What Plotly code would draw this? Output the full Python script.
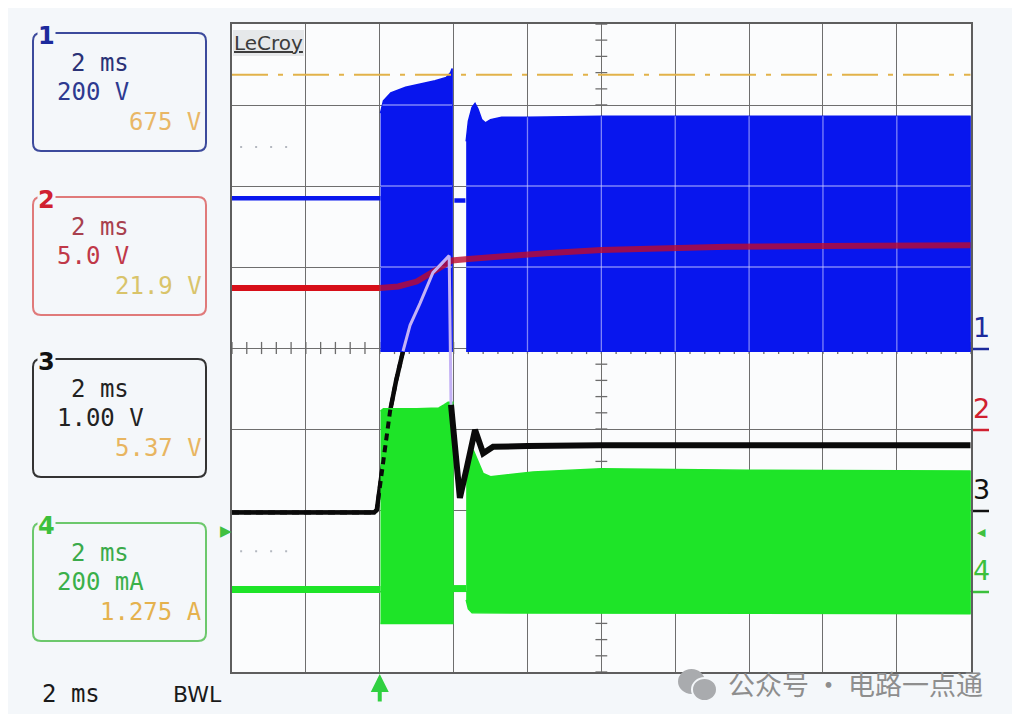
import numpy as np
import plotly.graph_objects as go

W, H = 1020, 722
PAGE_MARGIN = 8                    # browser body margin around the figure
FIG_W, FIG_H = W - 2 * PAGE_MARGIN, H - 2 * PAGE_MARGIN

# scope settings per channel: units/div and ground marker (in divisions from bottom)
CH1_SCALE, CH1_OFFSET = 200.0, 4   # V
CH2_SCALE, CH2_OFFSET = 5.0, 3     # V
CH3_SCALE, CH3_OFFSET = 1.0, 2     # V
CH4_SCALE, CH4_OFFSET = 0.2, 1     # A
CURSOR_CH1 = 675.0                 # V, cursor level shown in orange

# --- channel 1 (blue, V) ---
ch1_pre_t = [0.0, 4.02]
ch1_pre_v = [370, 370]
ch1_b1_t = [4.02, 4.10, 4.30, 4.70, 5.10, 5.50, 5.80, 5.92, 5.96]
ch1_b1_top = [580, 610, 630, 644, 652, 660, 668, 680, 690]
ch1_b1_bot_t = [4.02, 5.96]
ch1_b1_bot = [-8, -8]
ch1_gap_t = [6.02, 6.32]
ch1_gap_v = [364, 364]
ch1_b2_t = [6.34, 6.40, 6.50, 6.58, 6.66, 6.76, 6.86, 7.0, 7.3, 8.0, 10.0, 14.0, 20.0]
ch1_b2_top = [510, 560, 594, 604, 590, 564, 556, 564, 570, 570, 572, 572, 572]
ch1_b2_bot_t = [6.34, 20.0]
ch1_b2_bot = [-8, -8]

# --- channel 2 (red, V) ---
ch2_t = [0.0, 4.0, 4.5, 5.0, 5.5, 5.96, 6.4, 7.2, 8.5, 10.0, 11.6, 13.4, 16.0, 20.0]
ch2_v = [8.7, 8.7, 8.8, 9.1, 9.75, 10.4, 10.5, 10.65, 10.85, 11.05, 11.15, 11.25, 11.3, 11.35]

# --- channel 3 (black, V) ---
ch3_t = [0.0, 3.85, 3.92, 4.0, 4.14, 4.28, 4.44, 4.63, 4.82, 5.09, 5.44, 5.88, 5.93,
         6.04, 6.17, 6.36, 6.58, 6.80, 7.07, 8.0, 10.0, 14.0, 20.0]
ch3_v = [-0.03, -0.03, 0.0, 0.25, 0.75, 1.22, 1.59, 1.96, 2.28, 2.55, 2.93, 3.14, 1.30,
         0.80, 0.15, 0.53, 0.99, 0.70, 0.78, 0.79, 0.80, 0.80, 0.80]
ch3_hidden = (4.63, 5.93)          # part of ch3 drawn behind the ch1 burst

# --- channel 4 (green, A) ---
ch4_pre_t = [0.0, 4.02]
ch4_pre_v = [0.004, 0.004]
ch4_b1_t = [4.02, 4.10, 5.0, 5.6, 5.75, 5.85, 5.98]
ch4_b1_top = [0.444, 0.45, 0.45, 0.452, 0.46, 0.466, 0.466]
ch4_b1_bot_t = [4.02, 5.98]
ch4_b1_bot = [-0.08, -0.08]
ch4_gap_t = [5.98, 6.34]
ch4_gap_v = [0.006, 0.006]
ch4_b2_t = [6.34, 6.42, 6.53, 6.64, 6.80, 7.0, 8.15, 10.0, 14.0, 20.0]
ch4_b2_top = [0.274, 0.31, 0.348, 0.324, 0.29, 0.282, 0.294, 0.302, 0.298, 0.296]
ch4_b2_bot_t = [6.34, 6.40, 6.50, 20.0]
ch4_b2_bot = [-0.022, -0.044, -0.054, -0.056]

# dotted reference marks at the left edge (ms, div)
dots_t = [0.22, 1.62]
dots_y = [6.48, 1.49]

BLUE = "rgb(8,22,238)"
GREEN = "rgb(30,228,40)"
RED = "rgb(215,15,25)"
PAPER = "#f4f7fa"


def to_div(v, scale, offset):
    return offset + np.asarray(v, dtype=float) / scale


def envelope(t_top, top, t_bot, bot):
    xs = list(t_top) + list(t_bot)[::-1]
    ys = list(top) + list(bot)[::-1]
    return xs, ys


def px(x):
    return (x - PAGE_MARGIN) / FIG_W


def py(y):
    return 1 - (y - PAGE_MARGIN) / FIG_H


fig = go.Figure()

# center graticule ticks
tx, ty = [], []
for t in np.arange(0, 20.01, 0.4):
    tx += [t, t, None]
    ty += [4 - 0.075, 4 + 0.075, None]
for d in np.arange(0, 8.01, 0.2):
    tx += [10 - 0.16, 10 + 0.16, None]
    ty += [d, d, None]
fig.add_trace(go.Scatter(x=tx, y=ty, mode="lines", line=dict(color="#6c6c6c", width=1.3),
                         hoverinfo="skip"))

for yv in dots_y:
    fig.add_trace(go.Scatter(x=dots_t, y=[yv, yv], mode="lines",
                             line=dict(color="#b4b8c0", width=2, dash="2px,13px"),
                             hoverinfo="skip"))

# channel 3 split into the rise, the part behind ch1 and the settled part
ch3_tt = np.asarray(ch3_t)
ch3_div = to_div(ch3_v, CH3_SCALE, CH3_OFFSET)
rise = ch3_tt <= ch3_hidden[0]
after = ch3_tt >= ch3_hidden[1]
hidden = (ch3_tt >= ch3_hidden[0]) & (ch3_tt <= ch3_hidden[1])
fig.add_trace(go.Scatter(x=ch3_tt[rise], y=ch3_div[rise], mode="lines",
                         line=dict(color="#0a0a0a", width=4.5), hoverinfo="skip"))

# channel 4 bursts
for tt, top, tb, bot in [(ch4_b1_t, ch4_b1_top, ch4_b1_bot_t, ch4_b1_bot),
                         (ch4_b2_t, ch4_b2_top, ch4_b2_bot_t, ch4_b2_bot)]:
    xs, ys = envelope(tt, to_div(top, CH4_SCALE, CH4_OFFSET), tb, to_div(bot, CH4_SCALE, CH4_OFFSET))
    fig.add_trace(go.Scatter(x=xs, y=ys, fill="toself", fillcolor=GREEN, mode="lines",
                             line=dict(color=GREEN, width=1.5), hoverinfo="skip"))
for tt, vv in [(ch4_pre_t, ch4_pre_v), (ch4_gap_t, ch4_gap_v)]:
    fig.add_trace(go.Scatter(x=tt, y=to_div(vv, CH4_SCALE, CH4_OFFSET), mode="lines",
                             line=dict(color=GREEN, width=7), hoverinfo="skip"))

# ch3 rise interleaved with the ch4 burst, then the settled part on top
fig.add_trace(go.Scatter(x=ch3_tt[rise], y=ch3_div[rise], mode="lines",
                         line=dict(color="#0a0a0a", width=4, dash="7px,5px"), hoverinfo="skip"))
fig.add_trace(go.Scatter(x=ch3_tt[after], y=ch3_div[after], mode="lines",
                         line=dict(color="#0a0a0a", width=6), hoverinfo="skip"))

# channel 1 bursts
blue_bursts = []
for tt, top, tb, bot in [(ch1_b1_t, ch1_b1_top, ch1_b1_bot_t, ch1_b1_bot),
                         (ch1_b2_t, ch1_b2_top, ch1_b2_bot_t, ch1_b2_bot)]:
    top_d = to_div(top, CH1_SCALE, CH1_OFFSET)
    bot_d = to_div(bot, CH1_SCALE, CH1_OFFSET)
    blue_bursts.append((np.asarray(tt), top_d, float(bot_d.max())))
    xs, ys = envelope(tt, top_d, tb, bot_d)
    fig.add_trace(go.Scatter(x=xs, y=ys, fill="toself", fillcolor=BLUE, mode="lines",
                             line=dict(color=BLUE, width=1.5), hoverinfo="skip"))
for tt, vv in [(ch1_pre_t, ch1_pre_v), (ch1_gap_t, ch1_gap_v)]:
    fig.add_trace(go.Scatter(x=tt, y=to_div(vv, CH1_SCALE, CH1_OFFSET), mode="lines",
                             line=dict(color=BLUE, width=4.5), hoverinfo="skip"))

# graticule shows through the blue bursts as light lines
gx, gy = [], []
for tt, top_d, bot_top in blue_bursts:
    for g in range(0, 21, 2):
        if tt[0] < g < tt[-1]:
            gx += [g, g, None]
            gy += [bot_top, float(np.interp(g, tt, top_d)), None]
    fine = np.linspace(tt[0], tt[-1], 400)
    top_f = np.interp(fine, tt, top_d)
    for level in (5, 6, 7):
        sel = fine[top_f >= level]
        if sel.size:
            gx += [float(sel.min()), float(sel.max()), None]
            gy += [level, level, None]
fig.add_trace(go.Scatter(x=gx, y=gy, mode="lines",
                         line=dict(color="rgba(205,205,255,0.6)", width=1.3), hoverinfo="skip"))

# channel 2
ch2_div = to_div(ch2_v, CH2_SCALE, CH2_OFFSET)
fig.add_trace(go.Scatter(x=ch2_t[:2], y=ch2_div[:2], mode="lines",
                         line=dict(color=RED, width=6), hoverinfo="skip"))
fig.add_trace(go.Scatter(x=ch2_t[1:], y=ch2_div[1:], mode="lines",
                         line=dict(color="rgba(190,10,45,0.8)", width=6), hoverinfo="skip"))

# channel 3 seen through channel 1
fig.add_trace(go.Scatter(x=ch3_tt[hidden], y=ch3_div[hidden], mode="lines",
                         line=dict(color="rgb(196,178,245)", width=3), hoverinfo="skip"))

# cursor level
cursor_div = CH1_OFFSET + CURSOR_CH1 / CH1_SCALE
fig.add_trace(go.Scatter(x=[0, 20], y=[cursor_div, cursor_div], mode="lines",
                         line=dict(color="#e2b24a", width=2, dash="36px,10px,5px,10px"),
                         hoverinfo="skip"))

shapes = []
annotations = []

# channel boxes on the left
MONO = "DejaVu Sans Mono"
CHAR = 14.45
boxes = [
    ("1", 33, "#3c4a9c", "#1c2a9c", [("2 ms", "#2a3276"), ("200 V", "#2e3a90"), ("675 V", "#e9b766")]),
    ("2", 197, "#e07a7a", "#d02030", [("2 ms", "#a8404e"), ("5.0 V", "#c03848"), ("21.9 V", "#d9c46a")]),
    ("3", 359, "#333333", "#111111", [("2 ms", "#222222"), ("1.00 V", "#222222"), ("5.37 V", "#e8b560")]),
    ("4", 523, "#6cc86c", "#3cc03c", [("2 ms", "#3aaa4a"), ("200 mA", "#3ab04a"), ("1.275 A", "#e5b24e")]),
]
for num, top, border, numcol, lines in boxes:
    x0, x1, y0, y1, r = 33, 206, top, top + 118, 8
    path = (f"M {px(x0 + r)},{py(y0)} L {px(x1 - r)},{py(y0)} Q {px(x1)},{py(y0)} {px(x1)},{py(y0 + r)} "
            f"L {px(x1)},{py(y1 - r)} Q {px(x1)},{py(y1)} {px(x1 - r)},{py(y1)} "
            f"L {px(x0 + r)},{py(y1)} Q {px(x0)},{py(y1)} {px(x0)},{py(y1 - r)} "
            f"L {px(x0)},{py(y0 + r)} Q {px(x0)},{py(y0)} {px(x0 + r)},{py(y0)} Z")
    shapes.append(dict(type="path", path=path, xref="paper", yref="paper",
                       line=dict(color=border, width=2)))
    annotations.append(dict(x=px(37), y=py(top + 3), text=f"<b>{num}</b>", bgcolor=PAPER,
                            borderpad=0, font=dict(family="DejaVu Sans", size=24, color=numcol)))
    (t1, c1), (t2, c2), (t3, c3) = lines
    annotations.append(dict(x=px(55 + CHAR), y=py(top + 30), text=t1, font=dict(color=c1)))
    annotations.append(dict(x=px(55), y=py(top + 59), text=t2, font=dict(color=c2)))
    annotations.append(dict(x=px(55 + (10 - len(t3)) * CHAR), y=py(top + 89), text=t3,
                            font=dict(color=c3)))

# timebase line at the bottom
annotations.append(dict(x=px(40), y=py(694), text="2 ms", font=dict(color="#1a1a1a")))
annotations.append(dict(x=px(171), y=py(694), text="BWL",
                        font=dict(family="DejaVu Sans", size=22, color="#1a1a1a")))

# LeCroy badge
shapes.append(dict(type="rect", xref="paper", yref="paper", x0=px(233), x1=px(304), y0=py(56), y1=py(30),
                   fillcolor="#e6e8ea", line=dict(width=0)))
annotations.append(dict(x=px(268), y=py(43), xanchor="center", text="<u>LeCroy</u>",
                        font=dict(family="DejaVu Sans", size=20, color="#3c3c3c")))

# channel markers on the right edge
right_marks = [("1", CH1_OFFSET, "#1c2a9c"), ("2", CH2_OFFSET, "#d02030"),
               ("3", CH3_OFFSET, "#111111"), ("4", CH4_OFFSET, "#3cc03c")]
for label, lvl, col in right_marks:
    ypix = 672 - lvl * 81
    shapes.append(dict(type="line", xref="paper", yref="paper", x0=px(973), x1=px(989),
                       y0=py(ypix + 1), y1=py(ypix + 1), line=dict(color=col, width=2.5)))
    annotations.append(dict(x=px(971), y=py(ypix - 3), text=label, yanchor="bottom",
                            font=dict(family="DejaVu Sans", size=27, color=col)))
annotations.append(dict(x=px(975), y=py(532), text="◀",
                        font=dict(family="DejaVu Sans", size=11, color="#40c040")))
annotations.append(dict(x=px(218), y=py(531), text="▶",
                        font=dict(family="DejaVu Sans", size=15, color="#40c040")))

# watermark text
annotations.append(dict(x=px(726), y=py(683), text="公众号 · 电路一点通",
                        font=dict(family="Noto Sans CJK SC", size=27, color="#8e8e8e")))

for a in annotations:
    a.setdefault("xref", "paper")
    a.setdefault("yref", "paper")
    a.setdefault("showarrow", False)
    a.setdefault("xanchor", "left")
    a.setdefault("yanchor", "middle")
    a["font"].setdefault("family", MONO)
    a["font"].setdefault("size", 24)

# trigger position arrow
annotations.append(dict(x=4.0, y=py(674), xref="x", yref="paper", ax=0, ay=29,
                        text="", showarrow=True, arrowhead=2, arrowsize=0.9,
                        arrowwidth=4, arrowcolor="#30d040"))

# watermark icon
shapes.append(dict(type="circle", xref="paper", yref="paper", x0=px(678), x1=px(705), y0=py(694),
                   y1=py(669), fillcolor="#a9abae", line=dict(width=0)))
shapes.append(dict(type="circle", xref="paper", yref="paper", x0=px(692), x1=px(717), y0=py(701),
                   y1=py(678), fillcolor="#a9abae", line=dict(color=PAPER, width=2)))

fig.update_layout(
    width=FIG_W, height=FIG_H,
    margin=dict(l=0, r=0, t=0, b=0),
    paper_bgcolor=PAPER,
    plot_bgcolor="#fbfcfd",
    showlegend=False,
    shapes=shapes,
    annotations=annotations,
    xaxis=dict(domain=[px(232), px(970.7)], range=[0, 20], dtick=2, tick0=0, showgrid=True,
               gridcolor="#6e6e6e", gridwidth=1.3, zeroline=False, showticklabels=False,
               showline=True, linecolor="#5e5e5e", linewidth=1.6, mirror=True, fixedrange=True),
    yaxis=dict(domain=[py(672), py(24)], range=[0, 8], dtick=1, tick0=0, showgrid=True,
               gridcolor="#6e6e6e", gridwidth=1.3, zeroline=False, showticklabels=False,
               showline=True, linecolor="#5e5e5e", linewidth=1.6, mirror=True, fixedrange=True),
)

fig.write_html("out.html")
